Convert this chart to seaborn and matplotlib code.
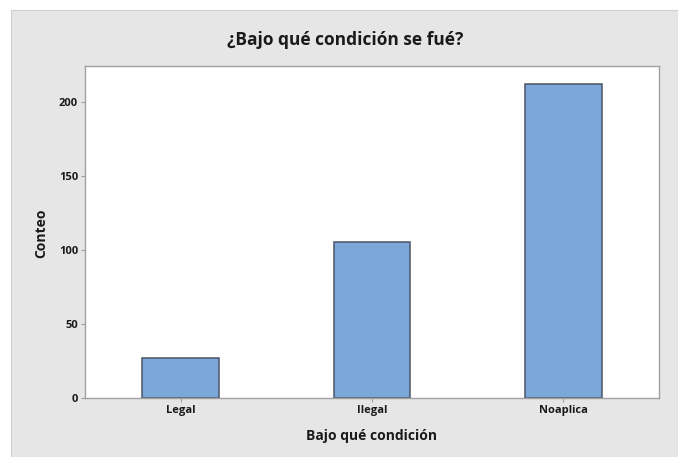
import matplotlib
matplotlib.use('Agg')
import matplotlib.pyplot as plt
import seaborn as sns
import pandas as pd
from matplotlib.patches import Rectangle

# Data
categorias = ['Legal', 'Ilegal', 'Noaplica']
conteos = [27, 105, 212]
y_ticks = [0, 50, 100, 150, 200]

df = pd.DataFrame({'condicion': categorias, 'conteo': conteos})

sns.set_style('white')
plt.rcParams['font.family'] = ['Open Sans', 'DejaVu Sans']

W, H = 678, 457
fig = plt.figure(figsize=(W / 100, H / 100), dpi=100, facecolor='white')

# gray Minitab-like frame (behind the axes)
fig.patches.append(Rectangle((11 / W, 0), 1 - 11 / W, 1 - 10 / H,
                             transform=fig.transFigure, facecolor='#e6e6e6',
                             edgecolor='#d0d0d0', linewidth=0.8, zorder=-10))

ax = fig.add_axes([85 / W, (H - 398) / H, (659 - 85) / W, (398 - 65.5) / H])
ax.set_facecolor('white')

sns.barplot(data=df, x='condicion', y='conteo', ax=ax, width=0.4,
            color='#7ba7d9', saturation=1, edgecolor='#4b5565', linewidth=1.1)

ax.set_ylim(0, 224.4)
ax.set_yticks(y_ticks)
ax.set_xlim(-0.5, 2.5)

for s in ax.spines.values():
    s.set_color('#a0a0a0')
    s.set_linewidth(1.0)

ax.tick_params(axis='both', direction='out', length=3, width=0.8, color='#a0a0a0',
               labelsize=8, pad=2, left=True, bottom=True)
for lab in ax.get_xticklabels() + ax.get_yticklabels():
    lab.set_fontweight('bold')
    lab.set_color('#1a1a1a')

ax.set_xlabel('')
ax.set_ylabel('')

fig.text(345 / W, 1 - 40 / H, '¿Bajo qué condición se fué?', ha='center', va='center',
         fontsize=12.5, fontweight='bold', color='#1a1a1a')
fig.text(372 / W, 1 - 436 / H, 'Bajo qué condición', ha='center', va='center',
         fontsize=10, fontweight='bold', color='#1a1a1a')
fig.text(41 / W, 1 - 233 / H, 'Conteo', ha='center', va='center', rotation=90,
         fontsize=10, fontweight='bold', color='#1a1a1a')

fig.savefig('out.png', dpi=100, facecolor=fig.get_facecolor())
